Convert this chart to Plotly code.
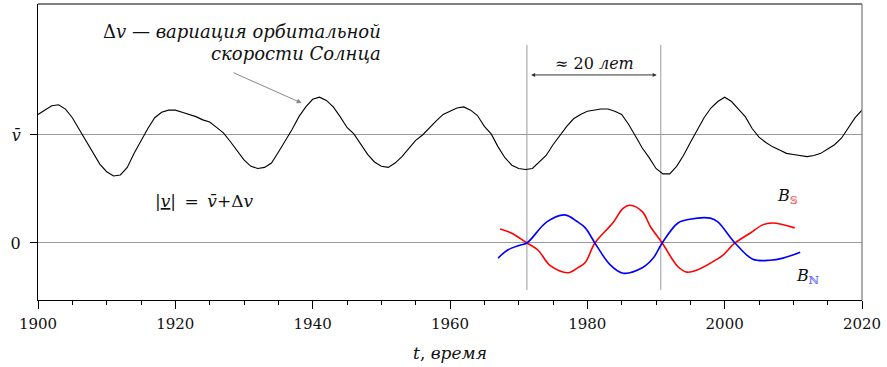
import plotly.graph_objects as go

# ---------------- data ----------------
YEARS = list(range(1900, 2021))
VBAR = 1.0
# variation of the Sun's orbital velocity (units: v-bar = 1), one value per year
DV = [0.19, 0.23, 0.27, 0.28, 0.24, 0.16, 0.05, -0.06, -0.17, -0.27,
      -0.34, -0.38, -0.37, -0.30, -0.17, -0.05, 0.06, 0.16, 0.21, 0.23,
      0.23, 0.21, 0.19, 0.17, 0.14, 0.12, 0.07, 0.02, -0.06, -0.15,
      -0.23, -0.29, -0.31, -0.30, -0.26, -0.16, -0.06, 0.05, 0.17, 0.26,
      0.33, 0.35, 0.32, 0.26, 0.17, 0.07, 0.01, -0.09, -0.18, -0.25,
      -0.29, -0.30, -0.26, -0.20, -0.12, -0.05, 0.00, 0.07, 0.13, 0.19,
      0.22, 0.25, 0.26, 0.23, 0.18, 0.08, 0.01, -0.11, -0.21, -0.28,
      -0.31, -0.32, -0.31, -0.25, -0.19, -0.09, 0.00, 0.08, 0.15, 0.19,
      0.22, 0.23, 0.24, 0.24, 0.22, 0.19, 0.10, -0.01, -0.12, -0.21,
      -0.31, -0.36, -0.36, -0.29, -0.19, -0.07, 0.04, 0.16, 0.25, 0.31,
      0.35, 0.31, 0.24, 0.17, 0.06, -0.02, -0.07, -0.11, -0.14, -0.17,
      -0.18, -0.19, -0.20, -0.19, -0.17, -0.13, -0.09, -0.03, 0.06, 0.16,
      0.23]
V = [VBAR + d for d in DV]

# solar magnetic field, south (red) and north (blue) polarity
BS_T = [1967.3, 1969.0, 1971.2, 1972.8, 1974.6, 1977.2, 1978.6, 1979.7, 1981.1,
        1983.7, 1985.2, 1986.2, 1988.0, 1989.2, 1990.9, 1993.2, 1994.5, 1996.0,
        1998.9, 1999.8, 2001.5, 2003.7, 2005.6, 2007.0, 2010.2]
BS = [0.13, 0.09, 0.00, -0.065, -0.21, -0.275, -0.23, -0.18, 0.00,
      0.185, 0.32, 0.35, 0.29, 0.15, 0.00, -0.22, -0.27, -0.25,
      -0.15, -0.11, 0.00, 0.09, 0.17, 0.185, 0.14]
BN_T = [1967.0, 1968.4, 1970.2, 1971.2, 1974.1, 1976.7, 1978.6, 1979.7, 1981.1,
        1983.3, 1985.2, 1988.0, 1989.6, 1990.9, 1993.2, 1994.9, 1997.9, 1999.0,
        2001.5, 2004.1, 2006.6, 2008.5, 2011.0]
BN = [-0.14, -0.065, -0.02, 0.00, 0.195, 0.26, 0.195, 0.14, 0.00,
      -0.20, -0.28, -0.23, -0.14, 0.00, 0.185, 0.22, 0.23, 0.195,
      0.00, -0.15, -0.16, -0.14, -0.085]

MARK_YEARS = [1971.2, 1990.7]
MARK_SPAN = [-0.435, 1.833]

X_TICKS = [1900, 1920, 1940, 1960, 1980, 2000, 2020]
Y_TICKS = [0, VBAR]
Y_TICK_TEXT = ["0", "<i>v\u0304</i>"]

FONT = "DejaVu Serif"
GREY = "#9a9a9a"

fig = go.Figure()

fig.add_trace(go.Scatter(x=YEARS, y=V, mode="lines",
                         line=dict(color="black", width=1.1), hoverinfo="skip"))
fig.add_trace(go.Scatter(x=BS_T, y=BS, mode="lines", line_shape="spline",
                         line=dict(color="#ff0000", width=1.6), hoverinfo="skip"))
fig.add_trace(go.Scatter(x=BN_T, y=BN, mode="lines", line_shape="spline",
                         line=dict(color="#0000ff", width=1.6), hoverinfo="skip"))

for yr in MARK_YEARS:
    fig.add_shape(type="line", x0=yr, x1=yr, y0=MARK_SPAN[0], y1=MARK_SPAN[1],
                  xref="x", yref="y", line=dict(color=GREY, width=1), layer="below")

# frame: top black, right grey
fig.add_shape(type="line", xref="paper", yref="paper", x0=0, x1=1, y0=1, y1=1,
              line=dict(color="black", width=1.2))
fig.add_shape(type="line", xref="paper", yref="paper", x0=1, x1=1, y0=0, y1=1,
              line=dict(color="#777777", width=1.2))

ann_font = dict(family=FONT, size=17, color="#111")
top_font = dict(family=FONT, size=18, color="#111")
fig.add_annotation(x=1950.2, y=1.954, xref="x", yref="y", xanchor="right",
                   text="\u0394<i>v</i> \u2014 <i>вариация орбитальной</i>",
                   showarrow=False, font=top_font)
fig.add_annotation(x=1950.2, y=1.759, xref="x", yref="y", xanchor="right",
                   text="<i>скорости Солнца</i>", showarrow=False, font=top_font)
fig.add_annotation(x=1938.4, y=1.296, ax=1928.25, ay=1.583, xref="x", yref="y",
                   axref="x", ayref="y", text="", showarrow=True, arrowhead=2,
                   arrowsize=1, arrowwidth=1, arrowcolor="#888888")
fig.add_annotation(x=1981.0, y=1.66, xref="x", yref="y", text="\u2248 20 <i>лет</i>",
                   showarrow=False, font=dict(family=FONT, size=16, color="#111"))
fig.add_annotation(x=1990.1, y=1.556, ax=1971.6, ay=1.556, xref="x", yref="y",
                   axref="x", ayref="y", text="", showarrow=True, arrowhead=2,
                   startarrowhead=2, arrowside="end+start", arrowsize=0.8,
                   startarrowsize=0.8, arrowwidth=1, arrowcolor="#333333")
fig.add_annotation(x=1924.2, y=0.389, xref="x", yref="y",
                   text="|<u><i>v</i></u>|\u2002=\u2002<i>v\u0304</i>+\u0394<i>v</i>",
                   showarrow=False, font=ann_font)
fig.add_annotation(x=2009.2, y=0.43, xref="x", yref="y",
                   text="<i>B</i><sub><span style='color:#ff5555'>\U0001D54A</span></sub>",
                   showarrow=False, font=dict(family=FONT, size=16, color="#111"))
fig.add_annotation(x=2012.1, y=-0.31, xref="x", yref="y",
                   text="<i>B</i><sub><span style='color:#5555ff'>\u2115</span></sub>",
                   showarrow=False, font=dict(family=FONT, size=16, color="#111"))

fig.update_layout(
    width=887, height=367, margin=dict(l=38, r=25, t=4, b=67),
    paper_bgcolor="white", plot_bgcolor="white", showlegend=False,
    font=dict(family=FONT, size=15, color="#111"),
    xaxis=dict(range=[1900, 2020], tickvals=X_TICKS, ticks="outside", ticklen=8,
               tickcolor="black", showline=True, linecolor="black", linewidth=1.2,
               showgrid=False, zeroline=False, tickfont=dict(size=15),
               ticklabelstandoff=2, automargin=False,
               minor=dict(dtick=5, ticks="outside", ticklen=4, tickcolor="black"),
               title=dict(text="<i>t</i>, <i>время</i>", font=dict(size=17), standoff=15)),
    yaxis=dict(range=[-0.528, 2.213], tickvals=Y_TICKS, ticktext=Y_TICK_TEXT,
               ticks="outside", ticklen=7, tickcolor="black", showline=True,
               linecolor="black", linewidth=1.2, showgrid=True, gridcolor=GREY,
               gridwidth=1, zeroline=False, tickfont=dict(size=16),
               ticklabelstandoff=6, automargin=False),
)

fig.write_html("out.html")
